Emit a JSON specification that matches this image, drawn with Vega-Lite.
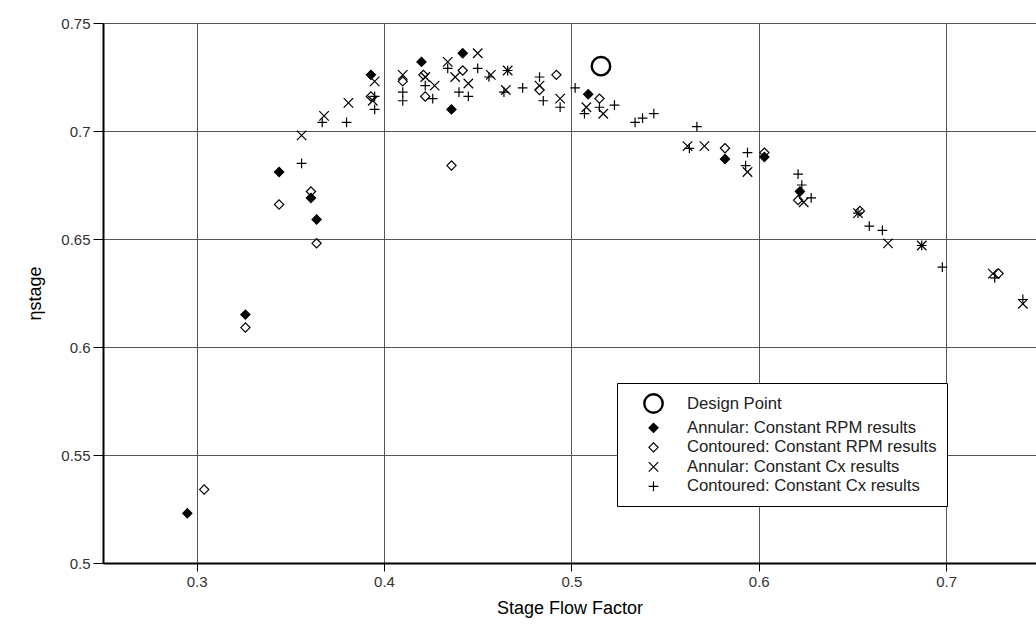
{
  "$schema": "https://vega.github.io/schema/vega-lite/v6.json",
  "autosize": "none",
  "width": 933,
  "height": 540,
  "padding": {"left": 103, "top": 23, "right": 0, "bottom": 71},
  "background": "white",
  "config": {
    "font": "Liberation Sans",
    "view": {"stroke": null},
    "axis": {
      "grid": true,
      "gridColor": "#555555",
      "gridWidth": 1,
      "domainColor": "black",
      "domainWidth": 2,
      "tickColor": "black",
      "tickWidth": 1,
      "labelFont": "Liberation Sans",
      "labelFontSize": 15,
      "labelColor": "#333333",
      "titleFont": "Liberation Sans",
      "titleFontSize": 18,
      "titleFontWeight": "normal",
      "titleColor": "black"
    },
    "legend": {
      "title": null,
      "orient": "none",
      "legendX": 514,
      "legendY": 360,
      "padding": 10,
      "symbolOffset": 16,
      "labelOffset": 23,
      "rowPadding": 1.5,
      "labelFont": "Liberation Sans",
      "labelFontSize": 16.7,
      "labelColor": "#222222",
      "labelLimit": 400,
      "strokeColor": "black",
      "fillColor": "white"
    }
  },
  "data": {
    "values": [
      {"series": "Annular: Constant RPM results", "phi": 0.295, "eta": 0.523},
      {"series": "Annular: Constant RPM results", "phi": 0.326, "eta": 0.615},
      {"series": "Annular: Constant RPM results", "phi": 0.344, "eta": 0.681},
      {"series": "Annular: Constant RPM results", "phi": 0.361, "eta": 0.669},
      {"series": "Annular: Constant RPM results", "phi": 0.364, "eta": 0.659},
      {"series": "Annular: Constant RPM results", "phi": 0.393, "eta": 0.726},
      {"series": "Annular: Constant RPM results", "phi": 0.420, "eta": 0.732},
      {"series": "Annular: Constant RPM results", "phi": 0.436, "eta": 0.710},
      {"series": "Annular: Constant RPM results", "phi": 0.442, "eta": 0.736},
      {"series": "Annular: Constant RPM results", "phi": 0.509, "eta": 0.717},
      {"series": "Annular: Constant RPM results", "phi": 0.582, "eta": 0.687},
      {"series": "Annular: Constant RPM results", "phi": 0.603, "eta": 0.688},
      {"series": "Annular: Constant RPM results", "phi": 0.622, "eta": 0.672},

      {"series": "Contoured: Constant RPM results", "phi": 0.304, "eta": 0.534},
      {"series": "Contoured: Constant RPM results", "phi": 0.326, "eta": 0.609},
      {"series": "Contoured: Constant RPM results", "phi": 0.344, "eta": 0.666},
      {"series": "Contoured: Constant RPM results", "phi": 0.361, "eta": 0.672},
      {"series": "Contoured: Constant RPM results", "phi": 0.364, "eta": 0.648},
      {"series": "Contoured: Constant RPM results", "phi": 0.393, "eta": 0.716},
      {"series": "Contoured: Constant RPM results", "phi": 0.410, "eta": 0.723},
      {"series": "Contoured: Constant RPM results", "phi": 0.421, "eta": 0.726},
      {"series": "Contoured: Constant RPM results", "phi": 0.422, "eta": 0.716},
      {"series": "Contoured: Constant RPM results", "phi": 0.436, "eta": 0.684},
      {"series": "Contoured: Constant RPM results", "phi": 0.442, "eta": 0.728},
      {"series": "Contoured: Constant RPM results", "phi": 0.483, "eta": 0.719},
      {"series": "Contoured: Constant RPM results", "phi": 0.492, "eta": 0.726},
      {"series": "Contoured: Constant RPM results", "phi": 0.515, "eta": 0.715},
      {"series": "Contoured: Constant RPM results", "phi": 0.582, "eta": 0.692},
      {"series": "Contoured: Constant RPM results", "phi": 0.603, "eta": 0.690},
      {"series": "Contoured: Constant RPM results", "phi": 0.621, "eta": 0.668},
      {"series": "Contoured: Constant RPM results", "phi": 0.654, "eta": 0.663},
      {"series": "Contoured: Constant RPM results", "phi": 0.728, "eta": 0.634},

      {"series": "Annular: Constant Cx results", "phi": 0.356, "eta": 0.698},
      {"series": "Annular: Constant Cx results", "phi": 0.368, "eta": 0.707},
      {"series": "Annular: Constant Cx results", "phi": 0.381, "eta": 0.713},
      {"series": "Annular: Constant Cx results", "phi": 0.395, "eta": 0.723},
      {"series": "Annular: Constant Cx results", "phi": 0.394, "eta": 0.714},
      {"series": "Annular: Constant Cx results", "phi": 0.410, "eta": 0.726},
      {"series": "Annular: Constant Cx results", "phi": 0.422, "eta": 0.725},
      {"series": "Annular: Constant Cx results", "phi": 0.427, "eta": 0.721},
      {"series": "Annular: Constant Cx results", "phi": 0.434, "eta": 0.732},
      {"series": "Annular: Constant Cx results", "phi": 0.438, "eta": 0.725},
      {"series": "Annular: Constant Cx results", "phi": 0.445, "eta": 0.722},
      {"series": "Annular: Constant Cx results", "phi": 0.450, "eta": 0.736},
      {"series": "Annular: Constant Cx results", "phi": 0.457, "eta": 0.726},
      {"series": "Annular: Constant Cx results", "phi": 0.466, "eta": 0.728},
      {"series": "Annular: Constant Cx results", "phi": 0.465, "eta": 0.719},
      {"series": "Annular: Constant Cx results", "phi": 0.483, "eta": 0.721},
      {"series": "Annular: Constant Cx results", "phi": 0.494, "eta": 0.715},
      {"series": "Annular: Constant Cx results", "phi": 0.508, "eta": 0.711},
      {"series": "Annular: Constant Cx results", "phi": 0.517, "eta": 0.708},
      {"series": "Annular: Constant Cx results", "phi": 0.562, "eta": 0.693},
      {"series": "Annular: Constant Cx results", "phi": 0.571, "eta": 0.693},
      {"series": "Annular: Constant Cx results", "phi": 0.594, "eta": 0.681},
      {"series": "Annular: Constant Cx results", "phi": 0.624, "eta": 0.667},
      {"series": "Annular: Constant Cx results", "phi": 0.653, "eta": 0.662},
      {"series": "Annular: Constant Cx results", "phi": 0.669, "eta": 0.648},
      {"series": "Annular: Constant Cx results", "phi": 0.687, "eta": 0.647},
      {"series": "Annular: Constant Cx results", "phi": 0.725, "eta": 0.634},
      {"series": "Annular: Constant Cx results", "phi": 0.741, "eta": 0.620},

      {"series": "Contoured: Constant Cx results", "phi": 0.356, "eta": 0.685},
      {"series": "Contoured: Constant Cx results", "phi": 0.367, "eta": 0.704},
      {"series": "Contoured: Constant Cx results", "phi": 0.380, "eta": 0.704},
      {"series": "Contoured: Constant Cx results", "phi": 0.395, "eta": 0.710},
      {"series": "Contoured: Constant Cx results", "phi": 0.395, "eta": 0.716},
      {"series": "Contoured: Constant Cx results", "phi": 0.410, "eta": 0.718},
      {"series": "Contoured: Constant Cx results", "phi": 0.410, "eta": 0.714},
      {"series": "Contoured: Constant Cx results", "phi": 0.422, "eta": 0.721},
      {"series": "Contoured: Constant Cx results", "phi": 0.426, "eta": 0.715},
      {"series": "Contoured: Constant Cx results", "phi": 0.434, "eta": 0.729},
      {"series": "Contoured: Constant Cx results", "phi": 0.440, "eta": 0.718},
      {"series": "Contoured: Constant Cx results", "phi": 0.445, "eta": 0.716},
      {"series": "Contoured: Constant Cx results", "phi": 0.450, "eta": 0.729},
      {"series": "Contoured: Constant Cx results", "phi": 0.456, "eta": 0.725},
      {"series": "Contoured: Constant Cx results", "phi": 0.466, "eta": 0.728},
      {"series": "Contoured: Constant Cx results", "phi": 0.464, "eta": 0.718},
      {"series": "Contoured: Constant Cx results", "phi": 0.474, "eta": 0.720},
      {"series": "Contoured: Constant Cx results", "phi": 0.483, "eta": 0.725},
      {"series": "Contoured: Constant Cx results", "phi": 0.485, "eta": 0.714},
      {"series": "Contoured: Constant Cx results", "phi": 0.494, "eta": 0.711},
      {"series": "Contoured: Constant Cx results", "phi": 0.502, "eta": 0.720},
      {"series": "Contoured: Constant Cx results", "phi": 0.507, "eta": 0.708},
      {"series": "Contoured: Constant Cx results", "phi": 0.515, "eta": 0.711},
      {"series": "Contoured: Constant Cx results", "phi": 0.523, "eta": 0.712},
      {"series": "Contoured: Constant Cx results", "phi": 0.534, "eta": 0.704},
      {"series": "Contoured: Constant Cx results", "phi": 0.538, "eta": 0.706},
      {"series": "Contoured: Constant Cx results", "phi": 0.544, "eta": 0.708},
      {"series": "Contoured: Constant Cx results", "phi": 0.567, "eta": 0.702},
      {"series": "Contoured: Constant Cx results", "phi": 0.563, "eta": 0.692},
      {"series": "Contoured: Constant Cx results", "phi": 0.594, "eta": 0.690},
      {"series": "Contoured: Constant Cx results", "phi": 0.593, "eta": 0.684},
      {"series": "Contoured: Constant Cx results", "phi": 0.621, "eta": 0.680},
      {"series": "Contoured: Constant Cx results", "phi": 0.623, "eta": 0.675},
      {"series": "Contoured: Constant Cx results", "phi": 0.628, "eta": 0.669},
      {"series": "Contoured: Constant Cx results", "phi": 0.653, "eta": 0.662},
      {"series": "Contoured: Constant Cx results", "phi": 0.659, "eta": 0.656},
      {"series": "Contoured: Constant Cx results", "phi": 0.666, "eta": 0.654},
      {"series": "Contoured: Constant Cx results", "phi": 0.687, "eta": 0.647},
      {"series": "Contoured: Constant Cx results", "phi": 0.698, "eta": 0.637},
      {"series": "Contoured: Constant Cx results", "phi": 0.726, "eta": 0.632},
      {"series": "Contoured: Constant Cx results", "phi": 0.741, "eta": 0.622},

      {"series": "Design Point", "phi": 0.5158, "eta": 0.730}
    ]
  },
  "mark": {"type": "point", "filled": false, "opacity": 1},
  "encoding": {
    "x": {
      "field": "phi",
      "type": "quantitative",
      "scale": {"domain": [0.25, 0.748], "nice": false, "zero": false},
      "axis": {
        "title": "Stage Flow Factor",
        "values": [0.3, 0.4, 0.5, 0.6, 0.7],
        "format": "~g",
        "tickSize": 8,
        "labelPadding": 3,
        "titlePadding": 10
      }
    },
    "y": {
      "field": "eta",
      "type": "quantitative",
      "scale": {"domain": [0.5, 0.75], "nice": false, "zero": false},
      "axis": {
        "title": "ηstage",
        "values": [0.5, 0.55, 0.6, 0.65, 0.7, 0.75],
        "format": "~g",
        "tickSize": 10,
        "labelPadding": 3,
        "titlePadding": 16
      }
    },
    "shape": {
      "field": "series",
      "type": "nominal",
      "scale": {
        "domain": [
          "Design Point",
          "Annular: Constant RPM results",
          "Contoured: Constant RPM results",
          "Annular: Constant Cx results",
          "Contoured: Constant Cx results"
        ],
        "range": [
          "circle",
          "diamond",
          "diamond",
          "M-1,-1L1,1M-1,1L1,-1",
          "M-1,0L1,0M0,-1L0,1"
        ]
      }
    },
    "stroke": {
      "field": "series",
      "type": "nominal",
      "scale": {
        "domain": [
          "Design Point",
          "Annular: Constant RPM results",
          "Contoured: Constant RPM results",
          "Annular: Constant Cx results",
          "Contoured: Constant Cx results"
        ],
        "range": ["black", "black", "black", "black", "black"]
      }
    },
    "fill": {
      "field": "series",
      "type": "nominal",
      "scale": {
        "domain": [
          "Design Point",
          "Annular: Constant RPM results",
          "Contoured: Constant RPM results",
          "Annular: Constant Cx results",
          "Contoured: Constant Cx results"
        ],
        "range": ["transparent", "black", "transparent", "transparent", "transparent"]
      }
    },
    "size": {
      "field": "series",
      "type": "nominal",
      "scale": {
        "type": "ordinal",
        "domain": [
          "Design Point",
          "Annular: Constant RPM results",
          "Contoured: Constant RPM results",
          "Annular: Constant Cx results",
          "Contoured: Constant Cx results"
        ],
        "range": [340, 85, 85, 90, 95]
      }
    },
    "strokeWidth": {
      "field": "series",
      "type": "nominal",
      "scale": {
        "type": "ordinal",
        "domain": [
          "Design Point",
          "Annular: Constant RPM results",
          "Contoured: Constant RPM results",
          "Annular: Constant Cx results",
          "Contoured: Constant Cx results"
        ],
        "range": [2.4, 1.2, 1.2, 1.2, 1.2]
      }
    }
  }
}
